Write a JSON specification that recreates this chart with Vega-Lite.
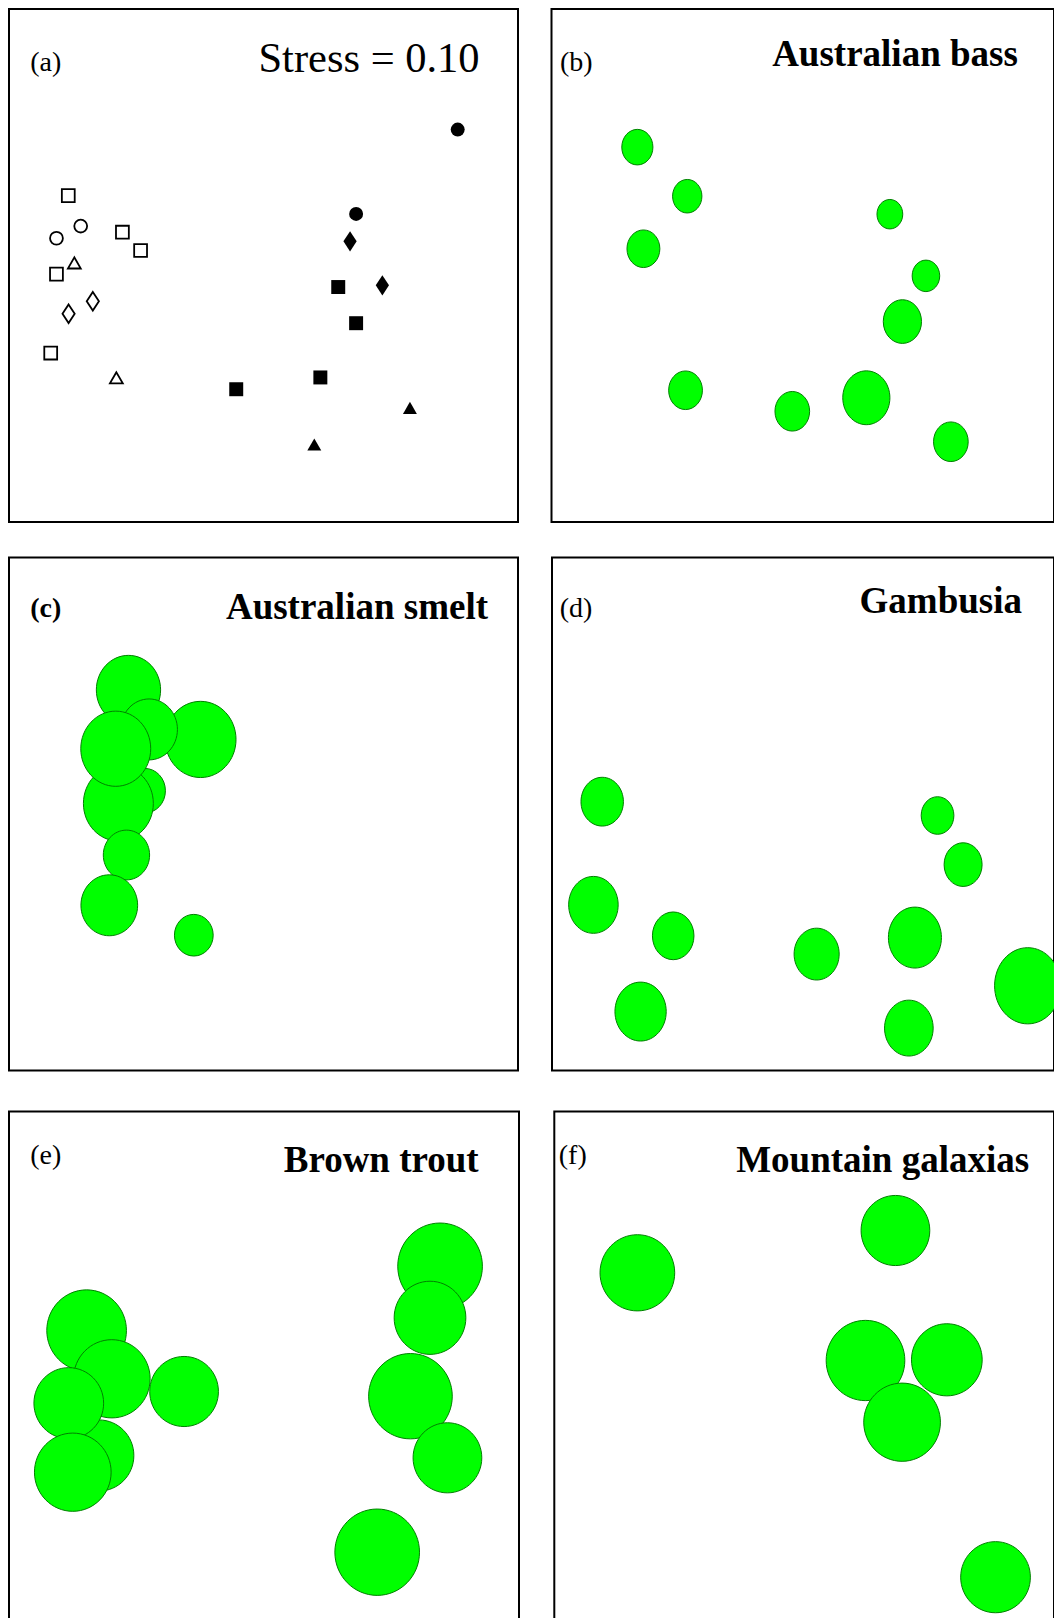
{
  "$schema": "https://vega.github.io/schema/vega-lite/v6.json",
  "padding": {"left": 8, "top": 8, "right": 0, "bottom": 0},
  "spacing": 38.5,
  "config": {
    "view": {"stroke": "black", "strokeWidth": 2},
    "axis": {"disable": true},
    "legend": {"disable": true},
    "text": {"font": "Liberation Serif", "color": "black"}
  },
  "vconcat": [
    {
      "spacing": 33.5,
      "vconcat": [
        {
          "spacing": 31.5,
          "hconcat": [
            {
              "width": 509, "height": 513,
              "encoding": {
                "x": {"field": "x", "type": "quantitative", "scale": {"domain": [0, 504], "nice": false, "zero": false}, "axis": null},
                "y": {"field": "y", "type": "quantitative", "scale": {"domain": [0, 505], "nice": false, "zero": false, "reverse": true}, "axis": null}
              },
              "layer": [
                {
                  "data": {"values": [
                    {"x": 444.3, "y": 118.7, "shape": "circle", "style": "solid"},
                    {"x": 343.7, "y": 201.7, "shape": "circle", "style": "solid"},
                    {"x": 337.7, "y": 228.7, "shape": "diamond", "style": "solid"},
                    {"x": 369.7, "y": 272.0, "shape": "diamond", "style": "solid"},
                    {"x": 326.0, "y": 273.7, "shape": "square", "style": "solid"},
                    {"x": 343.7, "y": 309.3, "shape": "square", "style": "solid"},
                    {"x": 308.3, "y": 362.7, "shape": "square", "style": "solid"},
                    {"x": 225.0, "y": 374.3, "shape": "square", "style": "solid"},
                    {"x": 397.0, "y": 392.7, "shape": "triangle", "style": "solid"},
                    {"x": 302.3, "y": 428.7, "shape": "triangle", "style": "solid"}
                  ]},
                  "mark": {"type": "point", "filled": true, "fill": "black", "strokeWidth": 0, "opacity": 1, "size": 195},
                  "encoding": {
                    "shape": {"field": "shape", "type": "nominal", "legend": null,
                      "scale": {"domain": ["circle", "square", "triangle", "diamond"], "range": ["circle", "square", "triangle-up", "M0,-1.45L0.95,0L0,1.45L-0.95,0Z"]}}
                  }
                },
                {
                  "data": {"values": [
                    {"x": 58.7, "y": 183.7, "shape": "square", "style": "open"},
                    {"x": 71.0, "y": 213.7, "shape": "circle", "style": "open"},
                    {"x": 47.0, "y": 225.7, "shape": "circle", "style": "open"},
                    {"x": 112.3, "y": 219.7, "shape": "square", "style": "open"},
                    {"x": 130.3, "y": 237.7, "shape": "square", "style": "open"},
                    {"x": 64.7, "y": 250.0, "shape": "triangle", "style": "open"},
                    {"x": 47.0, "y": 261.0, "shape": "square", "style": "open"},
                    {"x": 83.0, "y": 287.7, "shape": "diamond", "style": "open"},
                    {"x": 59.0, "y": 300.0, "shape": "diamond", "style": "open"},
                    {"x": 41.3, "y": 338.7, "shape": "square", "style": "open"},
                    {"x": 106.3, "y": 363.0, "shape": "triangle", "style": "open"}
                  ]},
                  "mark": {"type": "point", "filled": false, "fill": "white", "stroke": "black", "strokeWidth": 1.8, "opacity": 1, "size": 165},
                  "encoding": {
                    "shape": {"field": "shape", "type": "nominal", "legend": null,
                      "scale": {"domain": ["circle", "square", "triangle", "diamond"], "range": ["circle", "square", "triangle-up", "M0,-1.45L0.95,0L0,1.45L-0.95,0Z"]}}
                  }
                },
                {
                  "data": {"values": [{"x": 21, "y": 61, "t": "(a)"}]},
                  "mark": {"type": "text", "align": "left", "baseline": "alphabetic", "fontSize": 28},
                  "encoding": {"text": {"field": "t"}}
                },
                {
                  "data": {"values": [{"x": 466, "y": 62, "t": "Stress = 0.10"}]},
                  "mark": {"type": "text", "align": "right", "baseline": "alphabetic", "fontSize": 42.5},
                  "encoding": {"text": {"field": "t"}}
                }
              ]
            },
            {
              "width": 502.5, "height": 513,
              "encoding": {
                "x": {"field": "x", "type": "quantitative", "scale": {"domain": [0, 497.5], "nice": false, "zero": false}, "axis": null},
                "y": {"field": "y", "type": "quantitative", "scale": {"domain": [0, 505], "nice": false, "zero": false, "reverse": true}, "axis": null}
              },
              "layer": [
                {
                  "data": {"values": [
                    {"x": 85.0, "y": 136.0, "d": 35},
                    {"x": 134.4, "y": 184.3, "d": 33},
                    {"x": 91.0, "y": 236.0, "d": 37},
                    {"x": 335.0, "y": 202.0, "d": 29},
                    {"x": 370.7, "y": 262.7, "d": 31},
                    {"x": 347.4, "y": 307.7, "d": 43},
                    {"x": 132.7, "y": 375.3, "d": 38},
                    {"x": 238.4, "y": 396.0, "d": 39},
                    {"x": 311.7, "y": 382.7, "d": 53},
                    {"x": 395.4, "y": 426.0, "d": 39}
                  ]},
                  "mark": {"type": "point", "shape": "M-0.875,0A0.875,1 0 1,0 0.875,0A0.875,1 0 1,0 -0.875,0Z", "filled": true, "fill": "#00ff00", "stroke": "#008000", "strokeWidth": 1, "opacity": 1},
                  "encoding": {
                    "size": {"field": "d", "type": "quantitative", "legend": null, "scale": {"type": "pow", "exponent": 2, "domain": [0, 100], "range": [0, 10323]}}
                  }
                },
                {
                  "data": {"values": [{"x": 8.4, "y": 61, "t": "(b)"}]},
                  "mark": {"type": "text", "align": "left", "baseline": "alphabetic", "fontSize": 28},
                  "encoding": {"text": {"field": "t"}}
                },
                {
                  "data": {"values": [{"x": 461.7, "y": 56, "t": "Australian bass"}]},
                  "mark": {"type": "text", "align": "right", "baseline": "alphabetic", "fontSize": 37, "fontWeight": "bold"},
                  "encoding": {"text": {"field": "t"}}
                }
              ]
            }
          ]
        },
        {
          "spacing": 32,
          "hconcat": [
            {
              "width": 509, "height": 513,
              "encoding": {
                "x": {"field": "x", "type": "quantitative", "scale": {"domain": [0, 504], "nice": false, "zero": false}, "axis": null},
                "y": {"field": "y", "type": "quantitative", "scale": {"domain": [0, 497.1], "nice": false, "zero": false, "reverse": true}, "axis": null}
              },
              "layer": [
                {
                  "data": {"values": [
                    {"x": 189.7, "y": 176.3, "d": 75},
                    {"x": 118.3, "y": 128.3, "d": 68},
                    {"x": 138.7, "y": 166.6, "d": 60},
                    {"x": 134.3, "y": 226.0, "d": 44},
                    {"x": 108.3, "y": 238.3, "d": 74},
                    {"x": 105.7, "y": 185.3, "d": 74},
                    {"x": 116.3, "y": 288.3, "d": 49},
                    {"x": 99.3, "y": 337.0, "d": 60},
                    {"x": 183.0, "y": 366.0, "d": 41}
                  ]},
                  "mark": {"type": "point", "shape": "M-0.93,0A0.93,1 0 1,0 0.93,0A0.93,1 0 1,0 -0.93,0Z", "filled": true, "fill": "#00ff00", "stroke": "#008000", "strokeWidth": 1, "opacity": 1},
                  "encoding": {
                    "size": {"field": "d", "type": "quantitative", "legend": null, "scale": {"type": "pow", "exponent": 2, "domain": [0, 100], "range": [0, 10650]}}
                  }
                },
                {
                  "data": {"values": [{"x": 21, "y": 58, "t": "(c)"}]},
                  "mark": {"type": "text", "align": "left", "baseline": "alphabetic", "fontSize": 28, "fontWeight": "bold"},
                  "encoding": {"text": {"field": "t"}}
                },
                {
                  "data": {"values": [{"x": 474.3, "y": 60, "t": "Australian smelt"}]},
                  "mark": {"type": "text", "align": "right", "baseline": "alphabetic", "fontSize": 37, "fontWeight": "bold"},
                  "encoding": {"text": {"field": "t"}}
                }
              ]
            },
            {
              "width": 502, "height": 513,
              "encoding": {
                "x": {"field": "x", "type": "quantitative", "scale": {"domain": [0, 497], "nice": false, "zero": false}, "axis": null},
                "y": {"field": "y", "type": "quantitative", "scale": {"domain": [0, 497.1], "nice": false, "zero": false, "reverse": true}, "axis": null}
              },
              "layer": [
                {
                  "data": {"values": [
                    {"x": 49.7, "y": 236.6, "d": 48},
                    {"x": 381.7, "y": 250.0, "d": 37},
                    {"x": 407.0, "y": 297.6, "d": 43},
                    {"x": 41.0, "y": 336.6, "d": 56},
                    {"x": 120.0, "y": 366.6, "d": 47},
                    {"x": 262.0, "y": 384.3, "d": 51},
                    {"x": 359.3, "y": 368.3, "d": 60},
                    {"x": 87.7, "y": 440.0, "d": 58},
                    {"x": 353.3, "y": 456.0, "d": 55},
                    {"x": 471.0, "y": 415.0, "d": 75}
                  ]},
                  "mark": {"type": "point", "shape": "M-0.87,0A0.87,1 0 1,0 0.87,0A0.87,1 0 1,0 -0.87,0Z", "filled": true, "fill": "#00ff00", "stroke": "#008000", "strokeWidth": 1, "opacity": 1},
                  "encoding": {
                    "size": {"field": "d", "type": "quantitative", "legend": null, "scale": {"type": "pow", "exponent": 2, "domain": [0, 100], "range": [0, 10650]}}
                  }
                },
                {
                  "data": {"values": [{"x": 7.7, "y": 58, "t": "(d)"}]},
                  "mark": {"type": "text", "align": "left", "baseline": "alphabetic", "fontSize": 28},
                  "encoding": {"text": {"field": "t"}}
                },
                {
                  "data": {"values": [{"x": 465.3, "y": 54, "t": "Gambusia"}]},
                  "mark": {"type": "text", "align": "right", "baseline": "alphabetic", "fontSize": 37, "fontWeight": "bold"},
                  "encoding": {"text": {"field": "t"}}
                }
              ]
            }
          ]
        }
      ]
    },
    {
      "spacing": 33.3,
      "hconcat": [
        {
          "width": 510, "height": 509,
          "encoding": {
            "x": {"field": "x", "type": "quantitative", "scale": {"domain": [-2, 504], "nice": false, "zero": false}, "axis": null},
            "y": {"field": "y", "type": "quantitative", "scale": {"domain": [0, 509], "nice": false, "zero": false, "reverse": true}, "axis": null}
          },
          "layer": [
            {
              "data": {"values": [
                {"x": 75.0, "y": 219.0, "d": 80},
                {"x": 100.0, "y": 267.3, "d": 77},
                {"x": 171.7, "y": 280.0, "d": 69},
                {"x": 87.3, "y": 344.0, "d": 70},
                {"x": 57.3, "y": 291.7, "d": 70},
                {"x": 61.3, "y": 360.7, "d": 77},
                {"x": 425.7, "y": 154.7, "d": 85},
                {"x": 415.7, "y": 206.3, "d": 72},
                {"x": 396.3, "y": 284.7, "d": 84},
                {"x": 433.0, "y": 346.3, "d": 69},
                {"x": 363.3, "y": 440.7, "d": 85}
              ]},
              "mark": {"type": "point", "shape": "M-0.98,0A0.98,1 0 1,0 0.98,0A0.98,1 0 1,0 -0.98,0Z", "filled": true, "fill": "#00ff00", "stroke": "#008000", "strokeWidth": 1, "opacity": 1},
              "encoding": {
                "size": {"field": "d", "type": "quantitative", "legend": null, "scale": {"type": "pow", "exponent": 2, "domain": [0, 100], "range": [0, 10050]}}
              }
            },
            {
              "data": {"values": [{"x": 19, "y": 52, "t": "(e)"}]},
              "mark": {"type": "text", "align": "left", "baseline": "alphabetic", "fontSize": 28},
              "encoding": {"text": {"field": "t"}}
            },
            {
              "data": {"values": [{"x": 464, "y": 60.7, "t": "Brown trout"}]},
              "mark": {"type": "text", "align": "right", "baseline": "alphabetic", "fontSize": 37, "fontWeight": "bold"},
              "encoding": {"text": {"field": "t"}}
            }
          ]
        },
        {
          "width": 499.7, "height": 509,
          "encoding": {
            "x": {"field": "x", "type": "quantitative", "scale": {"domain": [0, 495.7], "nice": false, "zero": false}, "axis": null},
            "y": {"field": "y", "type": "quantitative", "scale": {"domain": [0, 509], "nice": false, "zero": false, "reverse": true}, "axis": null}
          },
          "layer": [
            {
              "data": {"values": [
                {"x": 82.4, "y": 161.3, "d": 75},
                {"x": 338.4, "y": 119.0, "d": 69},
                {"x": 308.7, "y": 249.0, "d": 79},
                {"x": 389.4, "y": 248.3, "d": 71},
                {"x": 345.0, "y": 310.7, "d": 77},
                {"x": 437.7, "y": 465.7, "d": 70}
              ]},
              "mark": {"type": "point", "shape": "M-0.98,0A0.98,1 0 1,0 0.98,0A0.98,1 0 1,0 -0.98,0Z", "filled": true, "fill": "#00ff00", "stroke": "#008000", "strokeWidth": 1, "opacity": 1},
              "encoding": {
                "size": {"field": "d", "type": "quantitative", "legend": null, "scale": {"type": "pow", "exponent": 2, "domain": [0, 100], "range": [0, 10050]}}
              }
            },
            {
              "data": {"values": [{"x": 4.4, "y": 52, "t": "(f)"}]},
              "mark": {"type": "text", "align": "left", "baseline": "alphabetic", "fontSize": 28},
              "encoding": {"text": {"field": "t"}}
            },
            {
              "data": {"values": [{"x": 471, "y": 60.7, "t": "Mountain galaxias"}]},
              "mark": {"type": "text", "align": "right", "baseline": "alphabetic", "fontSize": 37, "fontWeight": "bold"},
              "encoding": {"text": {"field": "t"}}
            }
          ]
        }
      ]
    }
  ]
}
